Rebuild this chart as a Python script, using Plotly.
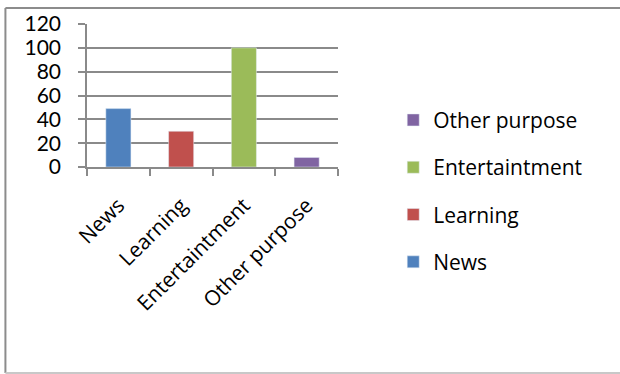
import plotly.graph_objects as go

# Purposes of use, with the share of respondents for each
categories = ["News", "Learning", "Entertaintment", "Other purpose"]
values = [49, 30, 100, 8]
colors = ["#4F81BD", "#C0504D", "#9BBB59", "#8064A2"]
y_ticks = [0, 20, 40, 60, 80, 100, 120]

FONT = "'Open Sans', Lato, sans-serif"
GRID = "#8a8a8a"

fig = go.Figure()
for i, (cat, val, col) in enumerate(zip(categories, values, colors)):
    fig.add_trace(go.Bar(
        x=[cat], y=[val], name=cat, marker_color=col,
        width=0.4, legendgroup=cat, legendrank=1000 - i,
    ))

fig.update_layout(
    width=620, height=374,
    margin=dict(l=87, r=282, t=24, b=207),
    paper_bgcolor="white", plot_bgcolor="white",
    barmode="overlay",
    font=dict(family=FONT, size=21, color="black"),
    showlegend=True,
    legend=dict(
        x=1.22, xanchor="left", y=0.47, yanchor="top",
        traceorder="grouped", tracegroupgap=17,
        font=dict(size=21, family=FONT),
        bgcolor="rgba(0,0,0,0)", maxheight=300,
    ),
)

fig.update_xaxes(
    categoryorder="array", categoryarray=categories,
    tickangle=-45, tickson="boundaries", automargin=False,
    ticks="outside", ticklen=7, tickcolor=GRID, tickwidth=1.5,
    ticklabelstandoff=16,
    showline=True, linecolor=GRID, linewidth=1.5,
    showgrid=False, tickfont=dict(size=21, family=FONT),
)
fig.update_yaxes(
    range=[0, 120], tickvals=y_ticks, automargin=False,
    ticks="outside", ticklen=7, tickcolor=GRID, tickwidth=1.5,
    ticklabelstandoff=13,
    showline=True, linecolor=GRID, linewidth=1.5,
    showgrid=True, gridcolor=GRID, gridwidth=1.5,
    zeroline=False, tickfont=dict(size=21, family="Lato, sans-serif"),
)

# Chart frame: left and top edges darker, bottom edge lighter
fig.add_shape(type="line", xref="paper", yref="paper",
              x0=-0.325, x1=-0.325, y0=1.112, y1=-1.44,
              line=dict(color="#8c8c8c", width=2))
fig.add_shape(type="line", xref="paper", yref="paper",
              x0=-0.325, x1=2.2, y0=1.112, y1=1.112,
              line=dict(color="#8c8c8c", width=2))
fig.add_shape(type="line", xref="paper", yref="paper",
              x0=-0.325, x1=2.2, y0=-1.44, y1=-1.44,
              line=dict(color="#c8c8c8", width=2))

fig.write_html("out.html")
